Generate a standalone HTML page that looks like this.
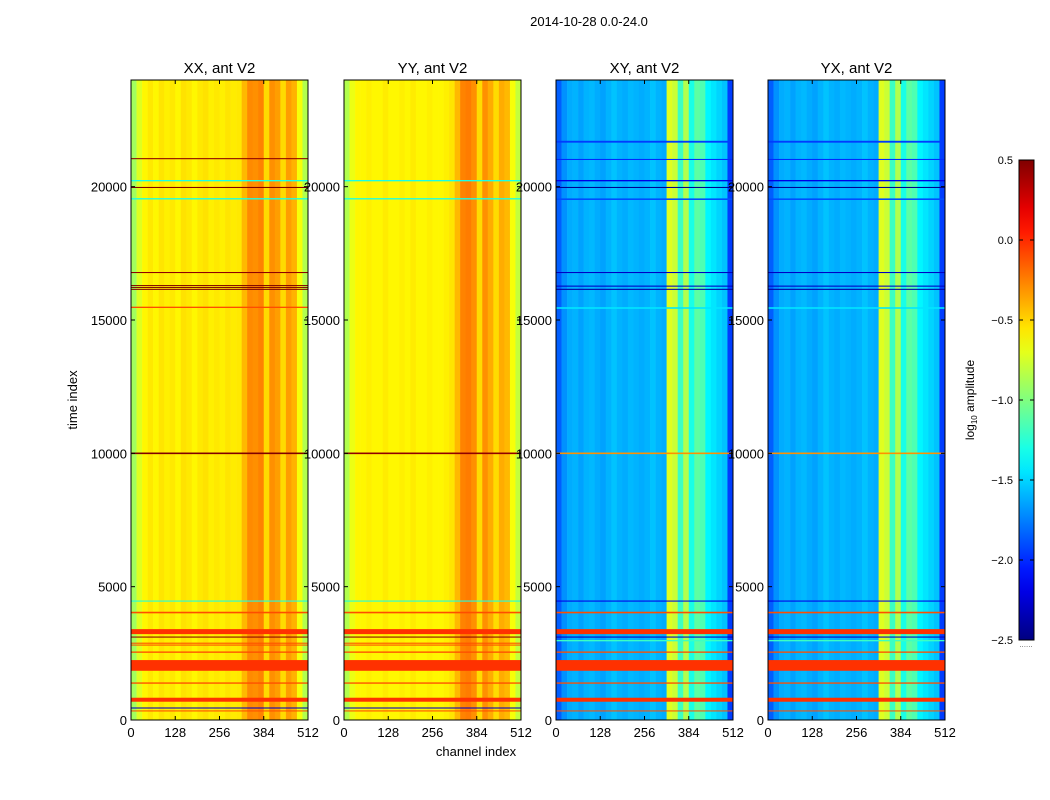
<!DOCTYPE html>
<html><head><meta charset="utf-8"><style>
body{margin:0;background:#fff;}
svg{display:block;font-family:"Liberation Sans","DejaVu Sans",sans-serif;}
</style></head><body>
<svg id="fig" width="1050" height="800" viewBox="0 0 1050 800"></svg>
<script>
const titles = ["XX, ant V2","YY, ant V2","XY, ant V2","YX, ant V2"];
const xTicks = [0,128,256,384,512];
const yTicks = [0,5000,10000,15000,20000];
const cbTicks = [0.5,0.0,-0.5,-1.0,-1.5,-2.0,-2.5];
// column profiles (log10 amplitude), 32 bins of 16 channels
const profXX = [-0.9,-0.72,-0.6,-0.56,-0.6,-0.55,-0.58,-0.56,-0.6,-0.54,-0.56,-0.6,-0.56,-0.54,-0.58,-0.56,-0.58,-0.55,-0.57,-0.56,-0.42,-0.28,-0.3,-0.26,-0.52,-0.3,-0.34,-0.52,-0.34,-0.4,-0.65,-0.85];
const profYY = [-0.85,-0.68,-0.6,-0.6,-0.58,-0.6,-0.6,-0.57,-0.6,-0.6,-0.58,-0.6,-0.57,-0.6,-0.6,-0.58,-0.6,-0.6,-0.58,-0.55,-0.42,-0.26,-0.24,-0.3,-0.52,-0.3,-0.38,-0.52,-0.38,-0.42,-0.65,-0.8];
const profXY = [-1.85,-1.7,-1.62,-1.6,-1.65,-1.6,-1.58,-1.62,-1.65,-1.6,-1.55,-1.6,-1.62,-1.58,-1.6,-1.62,-1.6,-1.55,-1.6,-1.62,-0.72,-0.78,-1.2,-0.85,-1.3,-1.1,-1.15,-1.4,-1.45,-1.5,-1.55,-1.95];
// flagged rows: [start time, end time, value]
const rowsXX = [[1846,2247,-0.02],[3220,3408,-0.02],[685,835,-0.02],[4000,4060,-0.1],[2520,2570,-0.1],[1360,1410,-0.1],[320,360,-0.1],[2790,2830,-0.1],[2860,2900,-0.1],[3090,3130,0.45],[430,470,-2.3],[4440,4480,-1.3],[9970,10030,0.5],[15450,15500,-0.1],[16130,16170,0.5],[16210,16240,0.5],[16280,16310,0.5],[16760,16800,0.45],[19520,19570,-1.3],[19950,19990,0.5],[20200,20250,-1.3],[21030,21070,0.45]];
const rowsYY = [[1846,2247,-0.02],[3220,3408,-0.02],[685,835,-0.02],[4000,4060,-0.1],[2520,2570,-0.1],[1360,1410,-0.1],[320,360,-0.1],[2790,2830,-0.1],[2860,2900,-0.1],[3090,3130,0.45],[430,470,-2.3],[4440,4480,-1.3],[9970,10030,0.45],[19520,19570,-1.3],[20200,20250,-1.3]];
const rowsXY = [[1846,2247,-0.02],[3220,3408,-0.02],[685,835,-0.02],[4000,4060,-0.1],[2520,2570,-0.1],[1360,1410,-0.1],[320,360,-0.1],[3090,3130,-2.3],[2950,3000,-1.2],[4440,4480,-2.2],[9970,10030,-0.3],[15420,15480,-1.45],[16130,16170,-2.4],[16250,16290,-2.3],[16760,16800,-2.3],[19500,19560,-1.9],[19950,19990,-2.45],[20200,20250,-2.2],[21000,21040,-2.0],[21650,21720,-1.95]];
const profiles = [profXX,profYY,profXY,profXY];
const rowSets = [rowsXX,rowsYY,rowsXY,rowsXY];

const NS="http://www.w3.org/2000/svg";
const svg=document.getElementById('fig');
function mk(tag,attrs,parent){const e=document.createElementNS(NS,tag);for(const k in attrs)e.setAttribute(k,attrs[k]);(parent||svg).appendChild(e);return e;}
function jet(v){let t=(v+2.5)/3;t=Math.max(0,Math.min(1,t));const c=x=>Math.round(255*Math.max(0,Math.min(1,x)));return `rgb(${c(1.5-Math.abs(4*t-3))},${c(1.5-Math.abs(4*t-2))},${c(1.5-Math.abs(4*t-1))})`;}
const panelX=[131,344,556,768], PW=177, PT=80, PB=720;
const xs=(p,c)=>panelX[p]+c/512*PW;
const ys=t=>PB-t/24000*(PB-PT);

mk('text',{x:589,y:26,'font-size':13,'text-anchor':'middle',}).textContent='2014-10-28 0.0-24.0';

for(let p=0;p<4;p++){
  const g=mk('g',{});
  
  
  const prof=profiles[p];
  prof.forEach((v,i)=>{
    const r=mk('rect',{x:xs(p,i*16),y:PT,width:xs(p,(i+1)*16)-xs(p,i*16)+0.3,height:PB-PT,fill:jet(v)},g);
    
    
  });
  rowSets[p].forEach(rw=>{
    const y1=ys(rw[1]),y2=ys(rw[0]);
    const r=mk('rect',{x:panelX[p],y:y1,width:PW,height:Math.max(1,y2-y1),fill:jet(rw[2])},g);
    
    
  });
  mk('rect',{x:panelX[p],y:PT,width:PW,height:PB-PT,fill:'none',stroke:'#000','stroke-width':1,});
  mk('text',{x:panelX[p]+PW/2,y:73,'font-size':15,'text-anchor':'middle',}).textContent=titles[p];
  xTicks.forEach(t=>{
    const x=xs(p,t);
    mk('line',{x1:x,x2:x,y1:PB,y2:PB-4,stroke:'#000'});
    mk('line',{x1:x,x2:x,y1:PT,y2:PT+4,stroke:'#000'});
    const tx=mk('text',{x:x,y:737,'font-size':13,'text-anchor':'middle'});
    
    
    tx.textContent=t;
  });
  yTicks.forEach(t=>{
    const y=ys(t);
    mk('line',{x1:panelX[p],x2:panelX[p]+4,y1:y,y2:y,stroke:'#000'});
    mk('line',{x1:panelX[p]+PW,x2:panelX[p]+PW-4,y1:y,y2:y,stroke:'#000'});
    const tx=mk('text',{x:panelX[p]-4,y:y+5,'font-size':13,'text-anchor':'end'});
    
    
    tx.textContent=t;
  });
}
mk('text',{x:476,y:756,'font-size':13,'text-anchor':'middle',}).textContent='channel index';
mk('text',{x:77,y:400,'font-size':13,'text-anchor':'middle',transform:'rotate(-90 77 400)',}).textContent='time index';

// colorbar
const cbX=1019,cbW=15,cbT=160,cbB=640;
const defs=mk('defs',{});
const grad=mk('linearGradient',{id:'jetg',x1:0,y1:1,x2:0,y2:0},defs);
for(let i=0;i<=20;i++){mk('stop',{offset:i/20,'stop-color':jet(-2.5+3*i/20)},grad);}
mk('rect',{x:cbX,y:cbT,width:cbW,height:cbB-cbT,fill:'url(#jetg)',stroke:'#000',});
cbTicks.forEach(v=>{
  const y=cbB-(v+2.5)/3*(cbB-cbT);
  mk('line',{x1:cbX,x2:cbX+4,y1:y,y2:y,stroke:'#000'});
  mk('line',{x1:cbX+cbW,x2:cbX+cbW-4,y1:y,y2:y,stroke:'#000'});
  const tx=mk('text',{x:1013,y:y+4,'font-size':11,'text-anchor':'end'});
  
  
  tx.textContent=v.toFixed(1).replace('-','\u2212');
});
const cl=mk('text',{x:974,y:400,'font-size':12,'text-anchor':'middle',transform:'rotate(-90 974 400)',});
cl.innerHTML='log<tspan font-size="8" dy="3">10</tspan><tspan dy="-3"> amplitude</tspan>';
mk('text',{x:1026,y:647,'font-size':8,'text-anchor':'middle',fill:'#666'}).textContent='......';
</script>
</body></html>
